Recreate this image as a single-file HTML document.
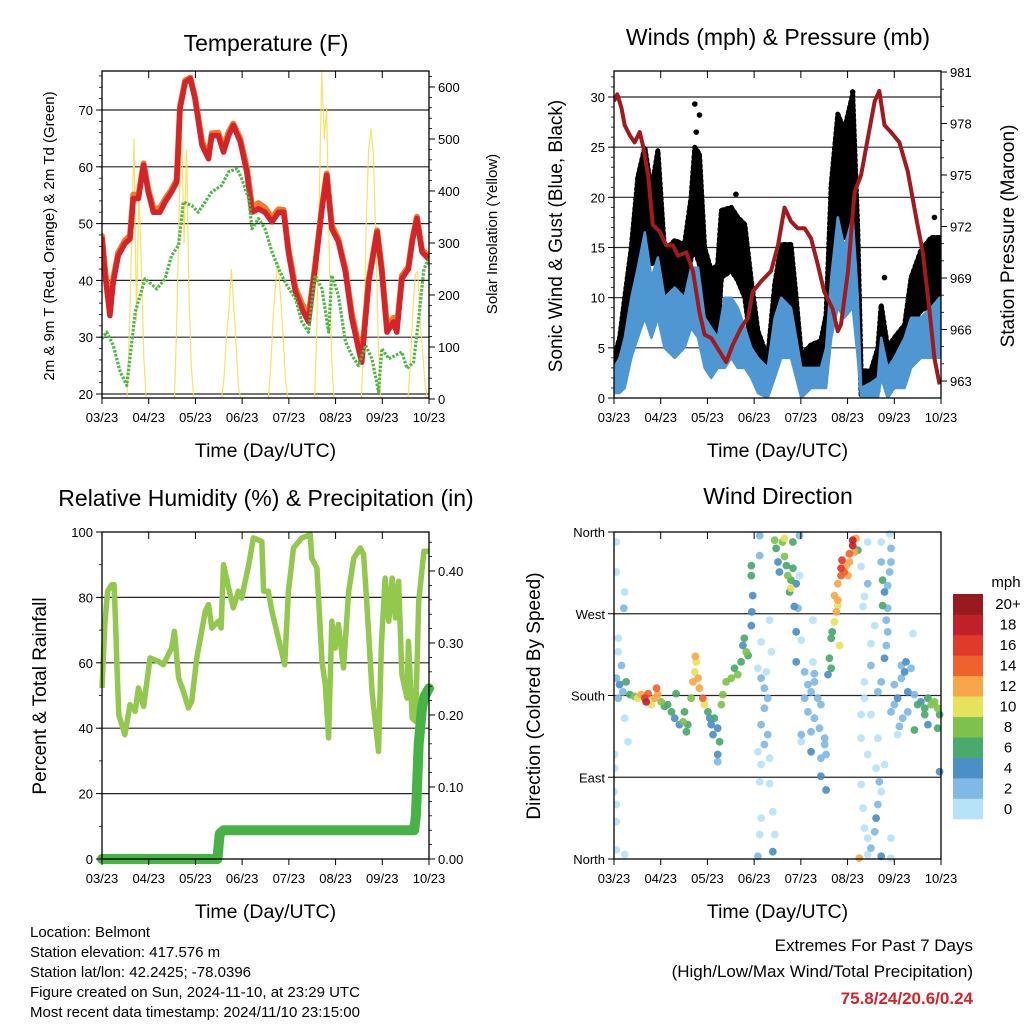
<!DOCTYPE html>
<html><head><meta charset="utf-8"><style>
body{margin:0;background:#fff;}
svg{display:block;font-family:"Liberation Sans",sans-serif;}
</style></head><body>
<svg id="s" width="1024" height="1024" viewBox="0 0 1024 1024" xmlns="http://www.w3.org/2000/svg"></svg>
<script>
// ---------- DATA ----------
const xTickLabels = ["03/23","04/23","05/23","06/23","07/23","08/23","09/23","10/23"];
// Temperature panel
const tempTimes = [0,0.06,0.17,0.24,0.35,0.49,0.6,0.67,0.78,0.89,0.99,1.1,1.24,1.35,1.49,1.6,1.67,1.78,1.89,1.99,2.14,2.28,2.35,2.49,2.6,2.71,2.81,2.96,3.1,3.21,3.35,3.49,3.64,3.78,3.89,3.99,4.14,4.28,4.42,4.56,4.71,4.81,4.92,5.06,5.21,5.35,5.49,5.56,5.71,5.89,5.99,6.1,6.24,6.31,6.42,6.56,6.64,6.74,6.85,6.99];
const temp2m = [47.3,41.5,33.8,39.7,44.4,46.5,47.3,54.4,54.4,60.3,55.6,52,52,53.8,55.6,57.3,70.2,74.9,75.5,72,63.8,61.4,65.5,65.5,62.6,65.5,67.3,64.4,59.1,52,52.6,52,50.3,52,52,45,38,35,32.7,42,52.6,58.5,49.1,46.8,41.5,33.3,28,25.6,39.7,48.5,41.5,30.9,32.7,30.9,40.3,42,46.8,50.9,45,43.8];
const temp9m = [47.8,42.2,34.6,40.3,44.9,47.0,47.9,55.1,54.9,60.6,56.1,52.6,52.7,54.3,56.0,57.7,70.6,75.2,75.7,72.3,64.4,62.0,65.9,66.0,63.3,66.1,67.6,64.9,59.8,53.0,53.6,52.8,51.0,52.5,52.4,45.6,38.7,35.9,33.6,42.5,53.0,58.8,49.7,47.2,42.0,34.0,28.8,26.3,40.1,48.8,42.1,31.8,33.4,31.6,40.8,42.4,47.1,51.2,45.4,44.2];
const dewTimes = [0,0.1,0.24,0.39,0.53,0.71,0.92,1.17,1.35,1.49,1.64,1.74,1.92,2.06,2.21,2.35,2.56,2.71,2.89,2.99,3.14,3.21,3.35,3.49,3.64,3.81,3.96,4.14,4.28,4.42,4.56,4.71,4.85,4.92,5.06,5.21,5.35,5.49,5.64,5.78,5.92,5.99,6.14,6.28,6.42,6.53,6.67,6.78,6.89,7.0];
const dewPoint = [29.7,30.9,28.6,23.9,21.5,34.4,40.3,38.5,40.3,44.4,46.2,53.8,53.2,52,53.8,55.6,56.7,59.1,59.7,57.9,54.4,49.1,50.9,49.1,45,41.5,39.1,36.8,32.7,30.9,40.9,38.5,30.9,40.9,37.4,29.2,26.8,25,28.6,26.2,20.4,28,26.2,26.8,27.4,24.5,25.6,33.3,42,43.8];
const solarDayStart = [0.53,1.55,2.56,3.56,4.55,5.55,6.55];
const solarPeaks = [
 [0,120,300,500,150,400,260,80,0],
 [0,150,380,510,300,480,200,60,0],
 [0,40,120,170,250,180,100,20,0],
 [0,60,160,220,264,200,130,40,0],
 [0,150,400,630,500,560,300,80,0],
 [0,110,330,480,520,470,310,110,0],
 [0,70,170,240,245,150,90,30,0]];
// Winds panel
const presTimes = [0,0.07,0.16,0.23,0.34,0.44,0.55,0.62,0.73,0.83,0.98,1.12,1.26,1.37,1.55,1.69,1.83,1.94,2.08,2.22,2.4,2.54,2.72,2.87,2.97,3.15,3.36,3.51,3.65,3.79,3.93,4.08,4.22,4.36,4.5,4.68,4.79,4.86,5.01,5.15,5.29,5.43,5.58,5.68,5.79,5.93,6.11,6.29,6.47,6.61,6.75,6.86,6.97];
const pressure = [979.3,979.7,978.9,977.9,977.3,976.9,977.5,976.7,975,972.1,971.7,970.9,970.9,970.3,970.5,969.4,967,965.7,965.5,964.9,964.1,965.1,966.1,966.7,968.2,968.8,969.4,970.9,973.1,972.3,971.9,971.9,971.3,969.8,968.2,967.2,965.9,966.3,969.4,974,975,977.1,979.3,979.9,977.9,977.5,976.9,975.2,972.5,970.5,967.2,964.3,962.8];
const gustTimes = [0,0.12,0.23,0.37,0.51,0.66,0.8,0.94,1.08,1.3,1.51,1.65,1.73,1.83,1.94,2.08,2.22,2.3,2.51,2.65,2.8,2.94,3.08,3.29,3.44,3.58,3.79,3.9,4.01,4.22,4.43,4.54,4.65,4.79,4.93,5.11,5.22,5.29,5.5,5.65,5.72,5.86,6.0,6.22,6.36,6.57,6.79,6.97];
const gustHigh = [4,6,10,15,22,25,20.7,24.7,14.7,15.7,15.3,20,25,24.3,15,12.7,13.3,18.7,19,18,17.3,11.7,6.7,4,11.3,15.3,15.3,10,4.3,5.3,5.7,8.3,21.3,28.3,26.7,30.3,16.7,2.7,2.7,5,9.3,5,6,7.3,12,14.7,16,16];
const gustLow = [2,2.3,4,9.3,13.3,16,13.3,14,9.3,9.3,9.3,14,14.7,13.3,8,6.7,6,12,12.7,11.7,10,5,3.3,1.7,6.7,10,9.3,5,2,2.3,2.3,3.3,12.7,16.7,16,17.3,10,0.3,0.3,0.7,4,1.3,2.7,3.3,7.3,8.7,9.3,10];
const gustOutlierTimes = [1.73,1.83,5.11,2.61,5.79,6.86,1.76,5.0];
const gustOutliers = [29.3,28.2,30.5,20.3,12,18,26.5,27];
const windTimes = [0,0.12,0.23,0.37,0.51,0.66,0.8,0.94,1.08,1.3,1.51,1.65,1.8,1.94,2.08,2.22,2.37,2.51,2.65,2.8,2.94,3.08,3.29,3.44,3.58,3.79,3.9,4.01,4.22,4.43,4.54,4.65,4.79,4.93,5.11,5.22,5.29,5.5,5.65,5.72,5.86,6.0,6.22,6.36,6.57,6.79,6.97];
const windHigh = [3,4,6,10,13,16.5,12,14,10,11,10,13,13,8,7,6,10,10,9,7,5,4,3,8,10,9,6,3,3,3,5,12,18,15,18,10,1,1.5,2,6,3,4,6,8,8,9,10];
const windLow = [0.5,0.5,1,4,6,8,6,8,5,4,5,7,6,3,2,3,3,4,3,3,2,0.5,0,2,4,4,2,0,1,1,1,6,9,8,9,4,0,0,0,2,0,1,1,3,4,4,4];
// RH panel
const rhTimes = [0,0.06,0.12,0.21,0.26,0.29,0.32,0.36,0.49,0.6,0.71,0.78,0.89,1.03,1.21,1.31,1.49,1.55,1.64,1.74,1.85,1.92,2.03,2.21,2.28,2.35,2.49,2.55,2.6,2.71,2.81,2.92,2.99,3.14,3.24,3.42,3.46,3.56,3.64,3.74,3.91,3.99,4.1,4.28,4.46,4.49,4.6,4.71,4.78,4.85,4.92,4.99,5.06,5.17,5.28,5.39,5.53,5.6,5.67,5.78,5.92,5.98,6.06,6.14,6.21,6.28,6.35,6.42,6.53,6.56,6.64,6.71,6.78,6.89,6.99];
const rhValues = [52.3,71.7,81.9,83.9,83.9,72.7,59.4,44.1,38,47.2,45.2,52.3,46.7,61.5,60.4,59.4,64.5,69.6,55.4,51.3,46.2,48.2,61.5,75.7,77.8,70.6,72.7,70.6,90,82.9,76.8,81.9,79.8,90,98.2,97.1,81.9,81.9,75.7,69.6,59.4,81.9,95.1,98.2,99.2,92,89,60.4,53.3,37,72.7,64.5,71.7,58.4,81.9,92,95.1,93.1,77.8,51.3,32.9,65.5,85.9,72.7,85.9,73.7,84.9,56.4,49.2,66.6,43.1,42.1,78.8,94.1,94.1];
const precipTimes = [0,2.47,2.52,2.6,6.68,6.72,6.78,6.85,6.9,7.0];
const precipValues = [0,0,0.035,0.04,0.04,0.06,0.16,0.21,0.225,0.237];
// Wind direction panel
const dirTimes = [0.05,0.05,0.23,0.21,0.09,0.09,0.05,0.16,0.09,0.23,0.3,0.01,0.01,0.0,0.05,0.05,0.05,0.23,
0.12,0.19,0.26,0.34,0.44,0.51,0.58,0.66,0.69,0.73,0.8,0.87,0.91,0.94,1.01,1.08,1.15,1.23,1.3,1.33,1.4,1.48,1.51,1.55,1.58,1.65,1.69,1.73,1.74,1.76,1.8,1.83,1.9,1.94,2.01,2.05,2.08,2.12,2.15,2.22,2.26,2.22,2.22,2.3,2.33,2.4,2.51,2.58,2.65,2.72,2.76,2.79,2.83,2.87,2.94,2.95,2.97,2.94,2.94,
3.12,3.12,3.44,3.47,3.51,3.54,3.61,3.65,3.69,3.72,3.76,3.79,3.79,3.83,3.86,3.83,3.65,3.9,3.94,3.97,3.97,
3.08,3.15,3.22,3.29,3.22,3.15,3.29,3.22,3.08,3.33,3.15,3.12,3.33,3.4,3.15,3.12,3.44,3.4,3.08,3.33,3.15,3.37,3.26,
4.08,4.15,4.22,4.29,4.36,4.43,4.08,4.15,4.29,4.4,4.51,4.51,4.43,4.54,4.22,4.01,3.9,3.9,4.26,4.01,4.26,4.29,4.22,4.43,4.54,4.01,
4.58,4.61,4.65,4.67,4.72,4.76,4.79,4.72,4.79,4.86,4.93,4.88,4.86,5.01,5.04,5.11,5.11,5.15,5.18,4.83,4.65,4.79,4.97,5.04,5.22,5.29,5.43,5.43,5.36,5.33,
5.25,5.29,5.33,5.36,5.43,5.5,5.58,5.61,5.65,5.72,5.68,5.61,5.43,5.29,5.29,5.5,5.65,5.79,5.93,5.72,5.43,5.93,5.36,5.36,5.5,5.65,5.72,5.79,5.83,5.86,5.83,5.86,5.75,5.79,5.86,5.9,5.93,5.72,5.72,5.93,5.9,5.75,5.5,5.58,6.4,
6.0,6.07,6.15,6.22,6.29,6.36,6.43,6.5,6.57,6.65,6.72,6.79,6.86,6.93,6.97,6.93,6.72,6.65,6.43,6.29,6.18,6.11,6.07,5.93,6.0,6.97,6.25,6.15];
const dirDegrees = [349,316,294,276,243,228,199,213,177,155,129,115,100,74,60,41,10,5,
192,184,195,181,179,177,181,177,173,182,170,177,188,181,173,168,170,162,155,182,148,151,162,140,148,177,195,206,223,217,199,188,177,170,162,155,148,137,155,144,129,115,107,170,181,195,199,210,203,217,235,243,228,224,257,272,290,312,323,
356,334,351,342,327,316,349,333,323,312,294,298,307,320,278,349,353,303,276,356,312,
210,199,188,177,166,148,137,126,118,111,104,85,83,52,45,27,27,8,3,263,239,228,206,
206,192,184,195,177,170,177,162,155,144,133,126,111,115,140,137,217,250,263,241,217,204,118,91,76,129,
203,221,243,250,261,272,279,290,303,312,316,329,320,312,327,345,351,338,353,235,210,285,323,336,340,322,349,303,289,278,
1,82,56,34,23,12,30,45,60,74,85,100,115,133,159,159,133,104,23,3,5,1,177,195,213,184,195,221,235,250,263,276,279,294,301,316,327,327,349,342,358,307,237,257,248,
192,177,199,206,184,210,181,170,173,166,177,170,173,166,159,144,148,159,142,162,155,146,137,162,170,96,217,213];
const dirSpeeds = [1,1,1,3,1,1,2,3,2,1,1,1,1,1,1,1,1,1,
4,3,6,6,8,10,12,16,18,14,10,12,14,12,8,7,6,6,5,6,5,8,7,7,6,8,12,10,12,10,13,12,14,10,6,5,4,5,6,4,6,4,3,8,9,9,8,7,9,7,5,6,8,6,4,4,4,6,6,
2,2,8,7,4,4,8,8,6,8,6,10,7,7,5,6,10,5,2,2,1,
1,2,2,2,3,2,3,2,1,1,1,1,1,1,1,1,1,4,3,1,1,1,1,
3,3,3,3,3,3,2,3,2,3,3,3,3,3,2,2,4,4,1,1,1,2,4,4,4,1,
5,6,7,7,10,12,11,12,13,14,14,17,16,13,12,18,19,12,13,10,6,12,13,14,6,1,1,2,1,1,
12,1,1,1,1,2,3,4,2,1,2,1,1,1,1,1,1,1,1,4,1,1,1,1,2,2,3,4,3,3,3,2,6,4,3,2,2,2,1,2,1,6,1,1,1,
3,4,3,4,4,3,3,6,5,7,6,8,8,8,7,6,4,6,6,3,2,3,1,2,2,4,4,2];
const speedLabels = ["0","2","4","6","8","10","12","14","16","18","20+"];
const speedColors = ["#b7e2f8","#7fb9e6","#4b8fc8","#4aa96c","#7fc24b","#e7e25b","#f8a748","#f0622c","#e03a2b","#c0202a","#991a1e"];

// ---------- HELPERS ----------
const S = document.getElementById('s');
const NS = "http://www.w3.org/2000/svg";
function mk(tag, attrs, parent, text){
  const e = document.createElementNS(NS, tag);
  for (const k in attrs) e.setAttribute(k, attrs[k]);
  if (text !== undefined) e.textContent = text;
  (parent || S).appendChild(e);
  return e;
}
function lin(d0,d1,r0,r1){ return v => r0 + (v-d0)/(d1-d0)*(r1-r0); }
function pathFrom(ts, vs, X, Y){
  return ts.map((t,i)=>(i?'L':'M')+X(t).toFixed(1)+','+Y(vs[i]).toFixed(1)).join('');
}
function bandFrom(ts, hi, lo, X, Y){
  let d = ts.map((t,i)=>(i?'L':'M')+X(t).toFixed(1)+','+Y(hi[i]).toFixed(1)).join('');
  for (let i=ts.length-1;i>=0;i--) d += 'L'+X(ts[i]).toFixed(1)+','+Y(lo[i]).toFixed(1);
  return d+'Z';
}
function frame(p){
  const g = mk('g',{});
  
  
  return g;
}
function grid(g, ys, x0, x1){
  ys.forEach(y=>{
    const l = mk('line',{x1:x0,x2:x1,y1:y,y2:y,stroke:'#000','stroke-width':1.2,'stroke-opacity':0.85},g);
    
    
  });
}
function xAxis(g, X, y0, y1, x0, x1, label){
  xTickLabels.forEach((lab,i)=>{
    const x = X(i);
    mk('line',{x1:x,x2:x,y1:y1,y2:y1+6,stroke:'#000','stroke-width':1},g);
    mk('line',{x1:x,x2:x,y1:y0,y2:y0+7,stroke:'#000','stroke-width':1},g);
    const t = mk('text',{x:x,y:y1+24,'font-size':13,'text-anchor':'middle'},g,lab);
    
    
  });
  const t = mk('text',{x:(x0+x1)/2,y:y1+59,'font-size':19.5,'text-anchor':'middle'},g,label);
  
  
}
function yTicks(g, vals, Y, x, side, fmt, minorStep, lo, hi){
  vals.forEach(v=>{
    const y = Y(v);
    mk('line',{x1:x,x2:x+(side<0?-6:6),y1:y,y2:y,stroke:'#000','stroke-width':1},g);
    const t = mk('text',{x:x+(side<0?-9:9),y:y+5,'font-size':13,'text-anchor':side<0?'end':'start'},g,fmt(v));
    
    
  });
  if (minorStep){
    for (let v=lo; v<=hi+1e-9; v+=minorStep){
      const y = Y(v);
      mk('line',{x1:x,x2:x+(side<0?-3:3),y1:y,y2:y,stroke:'#000','stroke-width':0.8},g);
    }
  }
}
function vTitle(g, x, y, txt, size, name){
  const t = mk('text',{x:x,y:y,'font-size':size,'text-anchor':'middle',transform:`rotate(-90 ${x} ${y})`},g,txt);
  
  
}
function title(g, x, y, txt){
  const t = mk('text',{x:x,y:y,'font-size':23,'text-anchor':'middle'},g,txt);
  
  
}
function border(g,x0,x1,y0,y1){
  const r = mk('rect',{x:x0,y:y0,width:x1-x0,height:y1-y0,fill:'none',stroke:'#000','stroke-width':1.3},g);
  
  
}

// ---------- PANEL 1: TEMPERATURE ----------
(function(){
  const x0=102,x1=429,y0=71,y1=398;
  const g = frame({name:'temperature-panel'});
  const X = lin(0,7,x0,x1);
  const Y = lin(20,70,394,110);
  const Ys = lin(0,600,399,87);
  const clip = mk('clipPath',{id:'c1'},g); mk('rect',{x:x0,y:y0,width:x1-x0,height:y1-y0},clip);
  grid(g,[20,30,40,50,60,70].map(Y),x0,x1);
  const pg = mk('g',{'clip-path':'url(#c1)'},g);
  solarPeaks.forEach((arr,k)=>{
    const ts = arr.map((v,i)=>solarDayStart[k]+i*0.052);
    const p = mk('path',{d:pathFrom(ts,arr,X,Ys),fill:'none',stroke:'#f9dd55','stroke-width':1.2,'stroke-opacity':0.9},pg);
    
    
  });
  const o = mk('path',{d:pathFrom(tempTimes,temp9m,X,Y),fill:'none',stroke:'#f07a2a','stroke-width':6,'stroke-linejoin':'round','stroke-linecap':'round'},pg);
  
  
  const r = mk('path',{d:pathFrom(tempTimes,temp2m,X,Y),fill:'none',stroke:'#d42329','stroke-width':5.5,'stroke-linejoin':'round','stroke-linecap':'round'},pg);
  
  
  const dg = mk('path',{d:pathFrom(dewTimes,dewPoint,X,Y),fill:'none',stroke:'#4db846','stroke-width':3.2,'stroke-dasharray':'2.5 1.5','stroke-linejoin':'round'},pg);
  
  
  border(g,x0,x1,y0,y1);
  yTicks(g,[20,30,40,50,60,70],Y,x0,-1,v=>String(v),2,20,76);
  yTicks(g,[0,100,200,300,400,500,600],Ys,x1,1,v=>String(v),20,0,620);
  xAxis(g,X,y0,y1,x0,x1,'Time (Day/UTC)');
  title(g,266,51,'Temperature (F)');
  vTitle(g,54,236,'2m & 9m T (Red, Orange) & 2m Td (Green)',15,'y-axis-title');
  vTitle(g,497,234,'Solar Insolation (Yellow)',15,'y2-axis-title');
})();

// ---------- PANEL 2: WINDS ----------
(function(){
  const x0=614,x1=941,y0=71,y1=398;
  const g = frame({name:'winds-panel'});
  const X = lin(0,7,x0,x1);
  const Y = lin(0,30,398,97);
  const Yp = lin(963,981,381,72);
  const clip = mk('clipPath',{id:'c2'},g); mk('rect',{x:x0,y:y0,width:x1-x0,height:y1-y0},clip);
  grid(g,[5,10,15,20,25,30].map(Y),x0,x1);
  const pg = mk('g',{'clip-path':'url(#c2)'},g);
  const gb = mk('path',{d:bandFrom(gustTimes,gustHigh,gustLow,X,Y),fill:'#000',stroke:'#000','stroke-width':5,'stroke-linejoin':'round','stroke-dasharray':'2 3','stroke-linecap':'round'},pg);
  
  
  gustOutlierTimes.forEach((t,i)=>{
    const c = mk('circle',{cx:X(t),cy:Y(gustOutliers[i]),r:2.8,fill:'#000'},pg);
    
    
  });
  const wb = mk('path',{d:bandFrom(windTimes,windHigh,windLow,X,Y),fill:'#4f97d2',stroke:'#4f97d2','stroke-width':2.5,'stroke-linejoin':'round'},pg);
  
  
  const pl = mk('path',{d:pathFrom(presTimes,pressure,X,Yp),fill:'none',stroke:'#a01a1e','stroke-width':4,'stroke-linejoin':'round'},pg);
  
  
  border(g,x0,x1,y0,y1);
  yTicks(g,[0,5,10,15,20,25,30],Y,x0,-1,v=>String(v),1,0,32);
  yTicks(g,[963,966,969,972,975,978,981],Yp,x1,1,v=>String(v),1,963,981);
  xAxis(g,X,y0,y1,x0,x1,'Time (Day/UTC)');
  title(g,778,45,'Winds (mph) & Pressure (mb)');
  vTitle(g,562,236,'Sonic Wind & Gust (Blue, Black)',19,'y-axis-title');
  vTitle(g,1014,236,'Station Pressure (Maroon)',19,'y2-axis-title');
})();

// ---------- PANEL 3: RH & PRECIP ----------
(function(){
  const x0=102,x1=429,y0=532,y1=859;
  const g = frame({name:'humidity-precip-panel'});
  const X = lin(0,7,x0,x1);
  const Y = lin(0,100,859,532);
  const Yr = lin(0,0.4,859,571);
  const clip = mk('clipPath',{id:'c3'},g); mk('rect',{x:x0-6,y:y0,width:x1-x0+12,height:y1-y0+6},clip);
  grid(g,[20,40,60,80].map(Y),x0,x1);
  const pg = mk('g',{'clip-path':'url(#c3)'},g);
  const rh = mk('path',{d:pathFrom(rhTimes,rhValues,X,Y),fill:'none',stroke:'#92c84e','stroke-width':5.5,'stroke-linejoin':'round'},pg);
  
  
  const pr = mk('path',{d:pathFrom(precipTimes,precipValues,X,Yr),fill:'none',stroke:'#47b347','stroke-width':10,'stroke-linejoin':'round','stroke-linecap':'round'},pg);
  
  
  border(g,x0,x1,y0,y1);
  yTicks(g,[0,20,40,60,80,100],Y,x0,-1,v=>String(v),10,0,100);
  yTicks(g,[0,0.1,0.2,0.3,0.4],Yr,x1,1,v=>v.toFixed(2),0.02,0,0.44);
  xAxis(g,X,y0,y1,x0,x1,'Time (Day/UTC)');
  title(g,266,506,'Relative Humidity (%) & Precipitation (in)');
  vTitle(g,46,696,'Percent & Total Rainfall',19,'y-axis-title');
})();

// ---------- PANEL 4: WIND DIRECTION ----------
(function(){
  const x0=614,x1=941,y0=532,y1=859;
  const g = frame({name:'wind-direction-panel'});
  const X = lin(0,7,x0,x1);
  const Y = lin(0,360,859,532);
  grid(g,[90,180,270].map(Y),x0,x1);
  const clip = mk('clipPath',{id:'c4'},g); mk('rect',{x:x0,y:y0-4,width:x1-x0+4,height:y1-y0+8},clip);
  const pg = mk('g',{'clip-path':'url(#c4)'},g);
  const order = dirSpeeds.map((s,i)=>i).sort((a,b)=>dirSpeeds[a]-dirSpeeds[b]);
  order.forEach(i=>{
    const bin = Math.min(10, Math.floor(dirSpeeds[i]/2));
    const c = mk('circle',{cx:X(dirTimes[i]).toFixed(1),cy:Y(dirDegrees[i]).toFixed(1),r:3.9,fill:speedColors[bin],'fill-opacity':0.92},pg);
    
    
  });
  border(g,x0,x1,y0,y1);
  const dirLabels = ["North","East","South","West","North"];
  [0,90,180,270,360].forEach((v,i)=>{
    const y = Y(v);
    mk('line',{x1:x0,x2:x0-6,y1:y,y2:y,stroke:'#000'},g);
    const t = mk('text',{x:x0-9,y:y+5,'font-size':13,'text-anchor':'end'},g,dirLabels[i]);
    
    
  });
  xAxis(g,X,y0,y1,x0,x1,'Time (Day/UTC)');
  title(g,778,504,'Wind Direction');
  vTitle(g,540,696,'Direction (Colored By Speed)',19,'y-axis-title');
  const cb = mk('g',{});
  
  
  const bh = (819-594)/11;
  speedColors.forEach((c,i)=>{
    const yTop = 819 - (i+1)*bh;
    const r = mk('rect',{x:953,y:yTop,width:30,height:bh+0.3,fill:c},cb);
    
    
    const t = mk('text',{x:1008,y:yTop+bh/2+5,'font-size':15,'text-anchor':'middle'},cb,speedLabels[i]);
    
    
  });
  const u = mk('text',{x:1006,y:587,'font-size':15,'text-anchor':'middle'},cb,'mph');
  
  
})();

// ---------- FOOTER TEXT ----------
const info = ["Location: Belmont","Station elevation: 417.576 m","Station lat/lon: 42.2425; -78.0396","Figure created on Sun, 2024-11-10, at 23:29 UTC","Most recent data timestamp: 2024/11/10 23:15:00"];
info.forEach((s,i)=>{
  const t = mk('text',{x:30,y:937+i*20,'font-size':15},S,s);
  
  
});
const e1 = mk('text',{x:973,y:951,'font-size':17,'text-anchor':'end'},S,'Extremes For Past 7 Days');


const e2 = mk('text',{x:973,y:977,'font-size':17,'text-anchor':'end'},S,'(High/Low/Max Wind/Total Precipitation)');


const e3 = mk('text',{x:973,y:1004,'font-size':17,'font-weight':'bold','text-anchor':'end',fill:'#d42329'},S,'75.8/24/20.6/0.24');


</script>
</body></html>
